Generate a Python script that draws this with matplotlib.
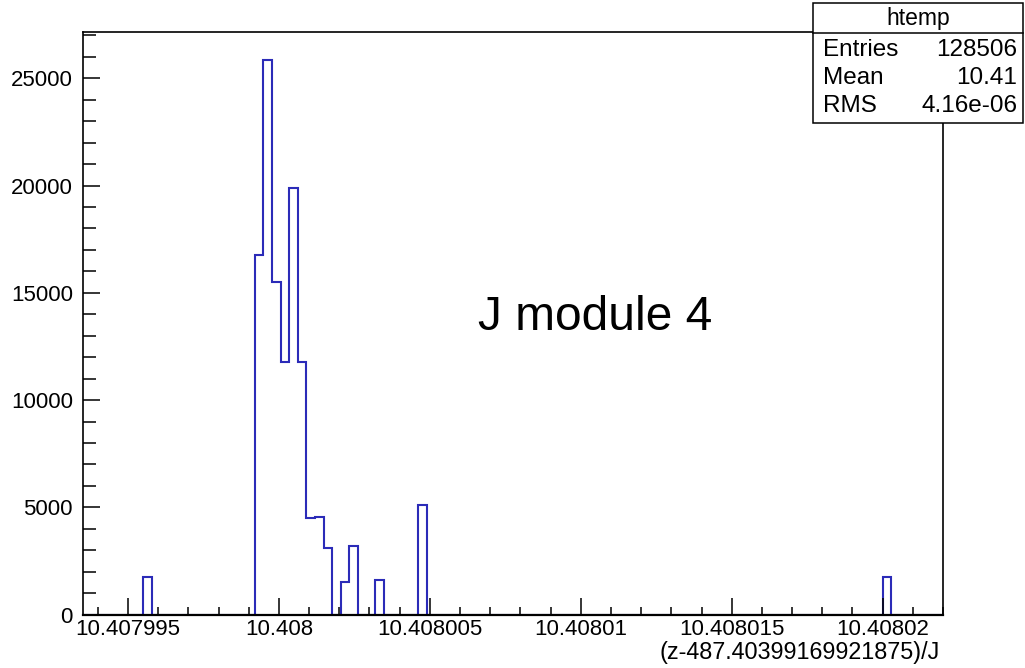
import numpy as np
import matplotlib
matplotlib.use("Agg")
import matplotlib.pyplot as plt
from matplotlib.patches import Rectangle
from matplotlib.lines import Line2D
from matplotlib.ticker import FixedLocator, FixedFormatter, MultipleLocator

plt.rcParams['font.family'] = ['Liberation Sans', 'DejaVu Sans']

# ---- data ----
x_min = 10.4079935
x_max = 10.408022
n_bins = 100
bin_index = [7, 20, 21, 22, 23, 24, 25, 26, 27, 28, 30, 31, 34, 39, 93]
bin_count = [1765, 16776, 25853, 15490, 11760, 19872, 11760, 4480, 4534, 3117,
             1517, 3196, 1597, 5121, 1765]
x_tick_values = [10.407995, 10.408, 10.408005, 10.40801, 10.408015, 10.40802]
x_tick_labels = ["10.407995", "10.408", "10.408005", "10.40801", "10.408015", "10.40802"]
y_tick_values = [0, 5000, 10000, 15000, 20000, 25000]
y_tick_labels = ["0", "5000", "10000", "15000", "20000", "25000"]
hist_name = "htemp"
stats_names = ["Entries", "Mean", "RMS"]
stats_values = ["128506", "10.41", "4.16e-06"]
x_label = "(z-487.40399169921875)/J"
annotation = "J module 4"

# ---- figure ----
W, H = 1025, 668
fig = plt.figure(figsize=(W / 100, H / 100), dpi=100)
fig.patch.set_facecolor("white")

L, R, T, B = 82.7, 943.0, 32.3, 614.55
ax = fig.add_axes([L / W, (H - B) / H, (R - L) / W, (B - T) / H])

edges = np.linspace(x_min, x_max, n_bins + 1)
counts = np.zeros(n_bins)
for i, c in zip(bin_index, bin_count):
    counts[i] = c

ax.stairs(counts, edges, baseline=0, fill=False, color="#2b2bb8", linewidth=1.5, zorder=1)

ax.set_xlim(x_min, x_max)
ax.set_ylim(0, 1.05 * max(bin_count))

ax.xaxis.set_major_locator(FixedLocator(x_tick_values))
ax.xaxis.set_major_formatter(FixedFormatter(x_tick_labels))
minor_x = np.arange(-2, 30) * 1e-6 + 10.407995
ax.xaxis.set_minor_locator(FixedLocator(minor_x))
ax.yaxis.set_major_locator(FixedLocator(y_tick_values))
ax.yaxis.set_major_formatter(FixedFormatter(y_tick_labels))
ax.yaxis.set_minor_locator(MultipleLocator(1000))

ax.tick_params(axis="both", which="both", direction="in", top=False, right=False,
               colors="black", width=1.1)
ax.tick_params(axis="x", which="major", length=12.5, labelsize=16, pad=3)
ax.tick_params(axis="x", which="minor", length=6)
ax.tick_params(axis="y", which="major", length=12.5, labelsize=16, pad=7)
ax.tick_params(axis="y", which="minor", length=9)
for s in ax.spines.values():
    s.set_linewidth(1.2)
    s.set_color("black")
    s.set_zorder(3)
ax.spines["bottom"].set_linewidth(1.6)

# x label
fig.text(940 / W, (H - 652) / H, x_label, ha="right", va="center", fontsize=16.8)

# annotation
fig.text(478 / W, (H - 330) / H, annotation, ha="left", va="baseline", fontsize=34.5)

# stats box
bx0, bx1, by0, by1 = 813, 1023, 3, 123
sep = 33
fig.patches.append(Rectangle((bx0 / W, (H - by1) / H), (bx1 - bx0) / W, (by1 - by0) / H,
                             transform=fig.transFigure, facecolor="white",
                             edgecolor="black", linewidth=1.1, zorder=5))
fig.lines.append(Line2D([bx0 / W, bx1 / W], [(H - sep) / H] * 2, transform=fig.transFigure,
                        color="black", linewidth=1.1, zorder=6))
fig.text((bx0 + bx1) / 2 / W, (H - 18) / H, hist_name, ha="center", va="center",
         fontsize=16.5, zorder=7)
row_y = [50, 78, 106]
for name, val, yy in zip(stats_names, stats_values, row_y):
    fig.text(823 / W, (H - yy) / H, name, ha="left", va="center", fontsize=17.5, zorder=7)
    fig.text(1017 / W, (H - yy) / H, val, ha="right", va="center", fontsize=17.5, zorder=7)

fig.savefig("out.png", dpi=100)
